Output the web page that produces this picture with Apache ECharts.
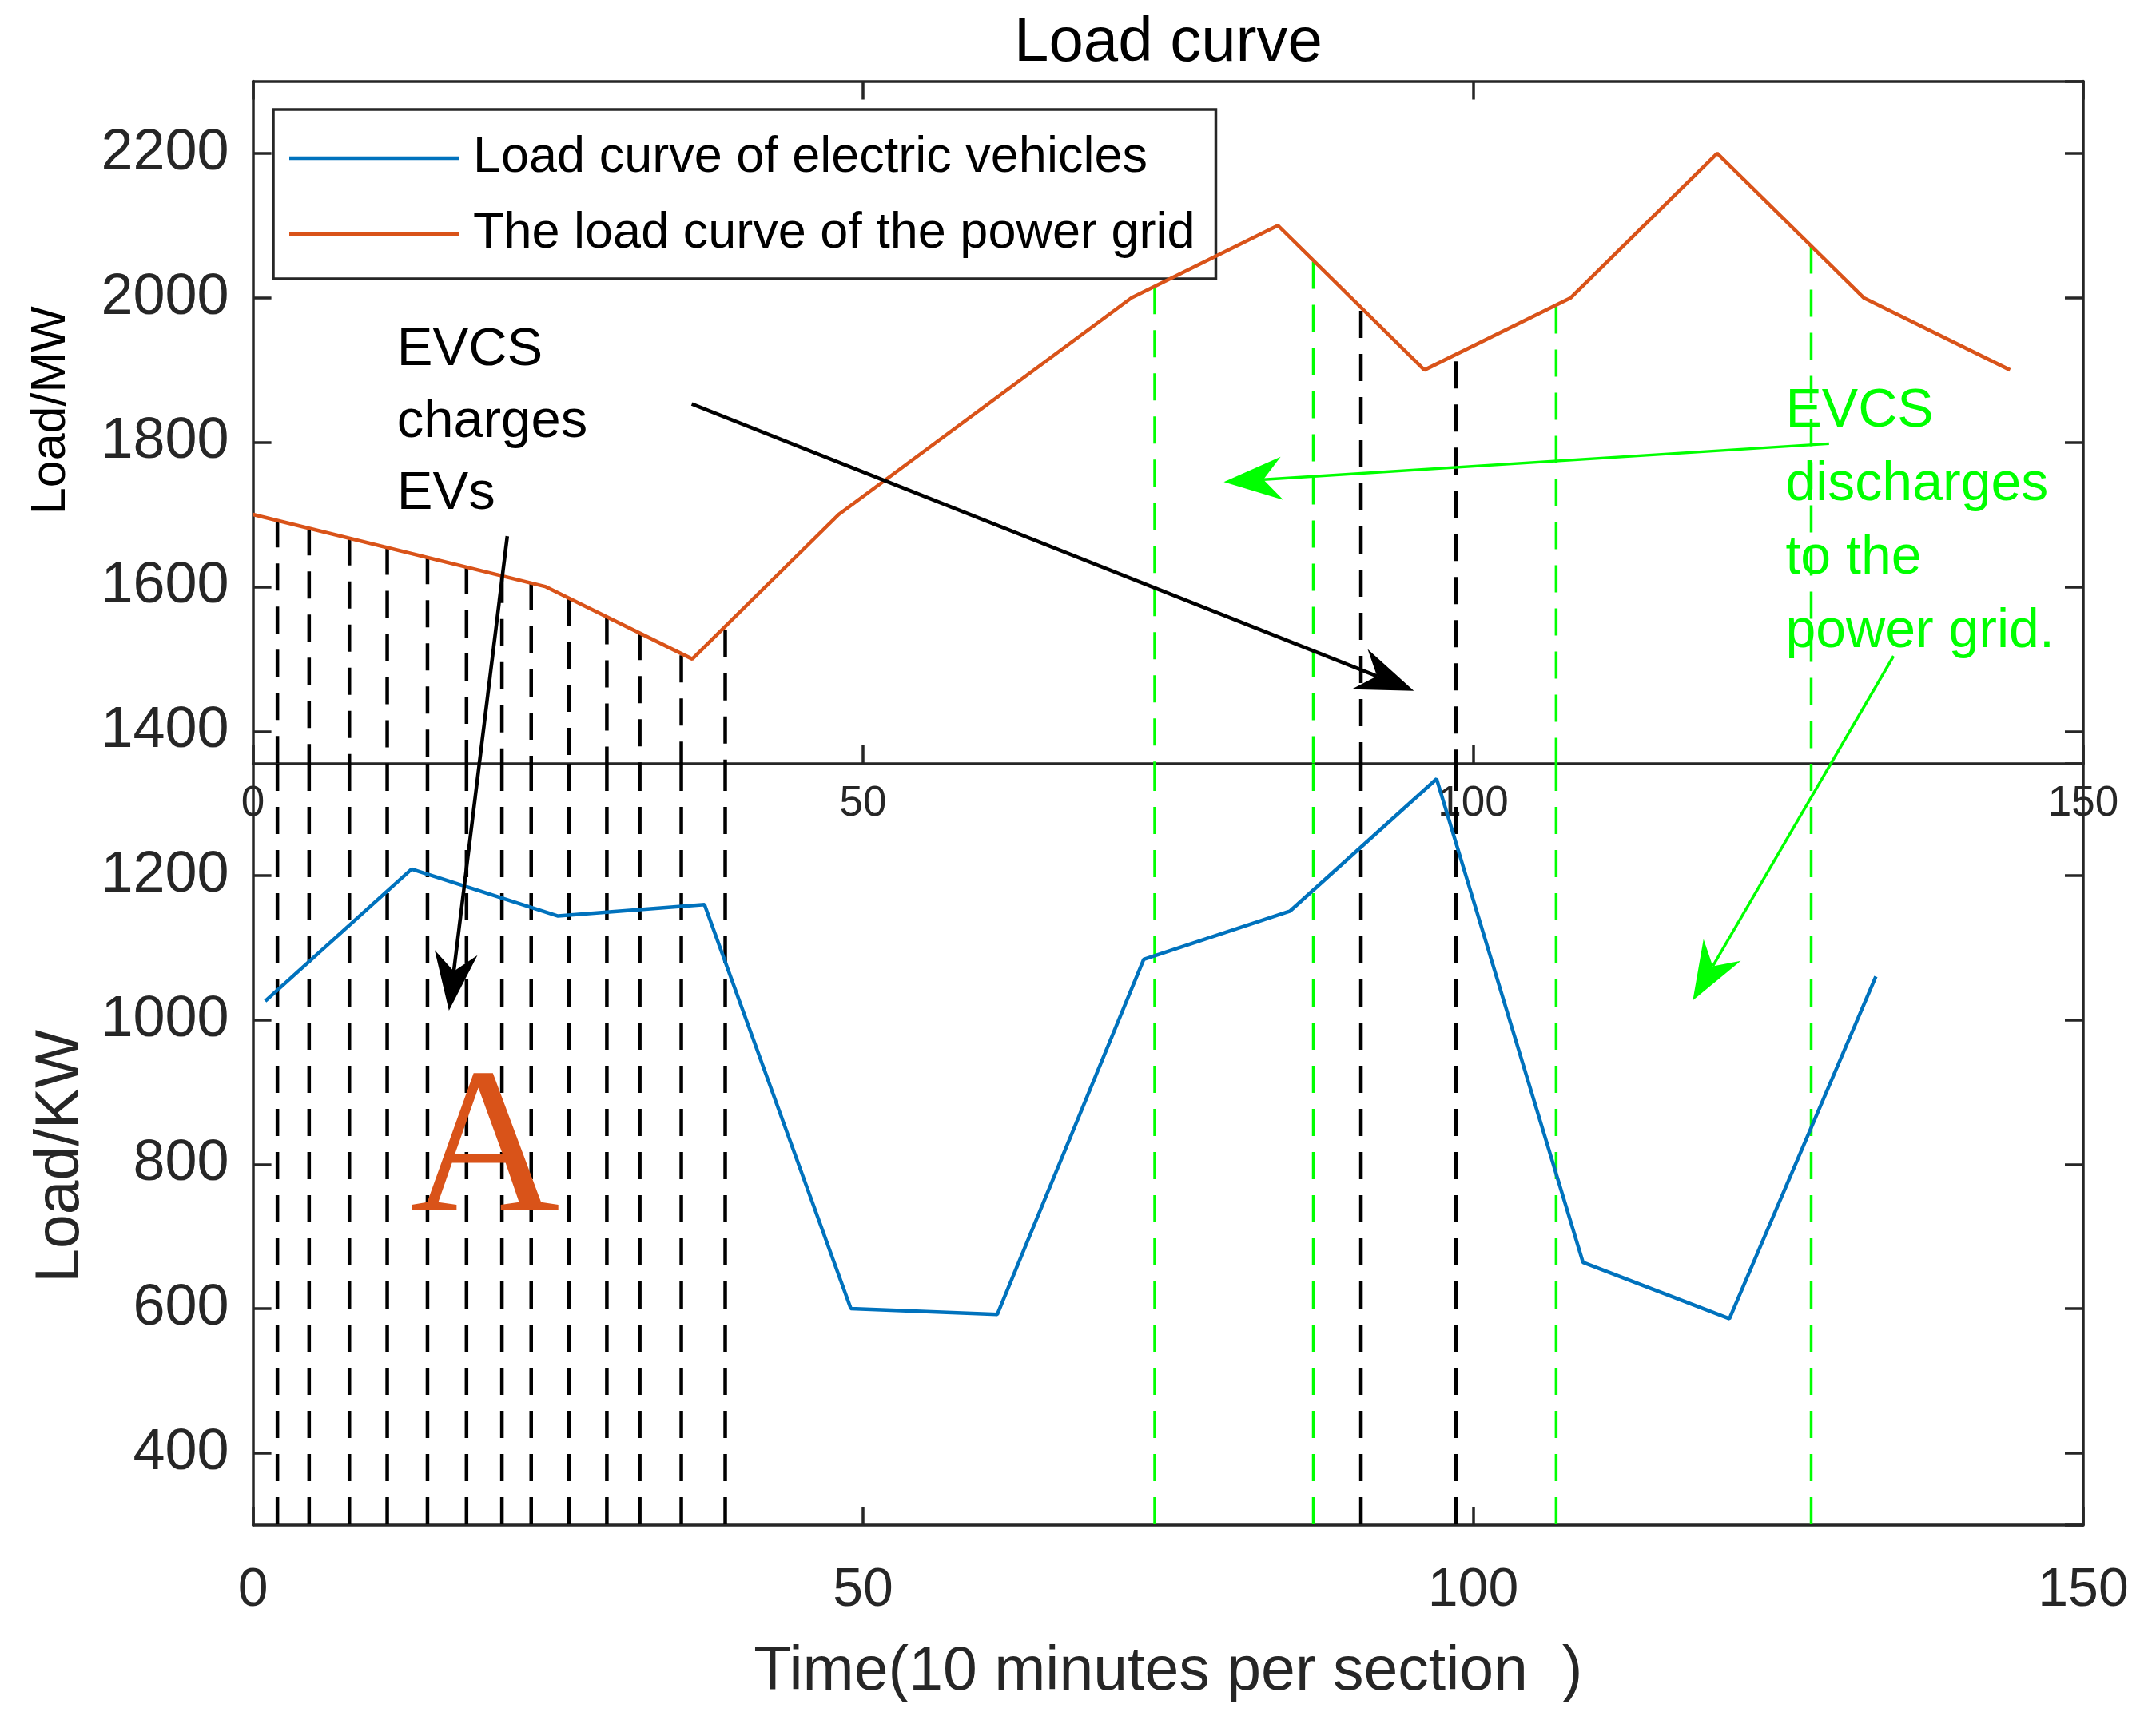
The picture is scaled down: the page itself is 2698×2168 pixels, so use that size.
<!DOCTYPE html>
<html>
<head>
<meta charset="utf-8">
<script src="https://cdn.jsdelivr.net/npm/echarts@6/dist/echarts.min.js"></script>
<style>
html,body{margin:0;padding:0;background:#fff;}
#c{width:2698px;height:2168px;}
</style>
</head>
<body>
<div id="c"></div>
<script>
// ---------------- data ----------------
const gridTimes   = [0, 24, 36, 48, 72, 84, 96, 108, 120, 132, 144];
const gridLoadMW  = [1700, 1600, 1500, 1700, 2000, 2100, 1900, 2000, 2200, 2000, 1900];

const evTimes     = [1, 13, 25, 37, 49, 61, 73, 85, 97, 109, 121, 133];
const evLoadKW    = [1026, 1209, 1144, 1160, 600, 592, 1084, 1151, 1334, 664, 586, 1060];

// black dashed drop lines (charging) : time and the top end on the grid curve
const blackDropTimes = [2.0, 4.6, 7.9, 11.0, 14.3, 17.5, 20.4, 22.8, 25.9, 29.0, 31.7, 35.1, 38.7, 90.8, 98.6];
const blackDropTopMW = [1692, 1681, 1667, 1654, 1641, 1627, 1615, 1605, 1584, 1558, 1536, 1505, 1540, 1982, 1912];
// green dashed drop lines (discharging)
const greenDropTimes = [73.9, 86.9, 106.8, 127.7];
const greenDropTopMW = [2015, 2050, 1988, 2071];

// axis ranges / tick step (ticks fall on 1400..2200 MW and 400..1200 KW)
const xRange  = [0, 150];
const xStep   = 50;
const MW_MIN = 1355, MW_MAX = 2300;
const KW_MIN = 300,  KW_MAX = 1355;
const yStepCount = 5;

// annotation anchors (grid index, x, y in that grid's data units)
const chargeText    = { grid: 0, at: [11.8, 1902], text: 'EVCS\ncharges\nEVs' };
const dischargeText = { grid: 0, at: [125.6, 1816], text: 'EVCS\ndischarges\nto the\npower grid.' };
const letterA       = { grid: 1, at: [19.0, 740], text: 'A' };
const blackArrows = [
  { from: [0, 35.96, 1853], to: [0, 95.14, 1456] },
  { from: [0, 20.84, 1670], to: [1, 16.06, 1013] }
];
const greenArrows = [
  { from: [0, 129.16, 1798], to: [0, 79.56, 1745] },
  { from: [0, 134.45, 1504], to: [1, 118.0, 1027] }
];

// ---------------- styles ----------------
const AX = '#262626';
const FONT = 'Liberation Sans, Arial, sans-serif';
const BLUE = '#0072BD', ORANGE = '#D95319', GREEN = '#00FF00';

const chart = echarts.init(document.getElementById('c'), null, { renderer: 'canvas' });

const gridTop = { left: 316.6, top: 101.4, width: 2290.4, height: 854.6 };
const gridBot = { left: 316.6, top: 956,   width: 2290.4, height: 953 };

function xAxisCfg(gi, pos, showLabel, fs, margin) {
  return {
    type: 'value', gridIndex: gi, position: pos, min: xRange[0], max: xRange[1], interval: xStep,
    axisLine: { show: true, onZero: false, lineStyle: { color: AX, width: 3.5 } },
    axisTick: { show: true, inside: true, length: 23, lineStyle: { color: AX, width: 3.5 } },
    axisLabel: { show: showLabel, fontSize: fs, color: AX, fontFamily: FONT, margin: margin,
                 showMinLabel: true, showMaxLabel: true },
    splitLine: { show: false }
  };
}
function yAxisCfg(gi, pos, min, max, showLabel) {
  return {
    type: 'value', gridIndex: gi, position: pos, min: min, max: max, splitNumber: yStepCount,
    axisLine: { show: true, onZero: false, lineStyle: { color: AX, width: 3.5 } },
    axisTick: { show: true, inside: true, length: 23, lineStyle: { color: AX, width: 3.5 } },
    axisLabel: { show: showLabel, fontSize: 72, color: AX, fontFamily: FONT, margin: 30,
                 showMinLabel: false, showMaxLabel: false,
                 formatter: function (v) { return String(v); } },
    splitLine: { show: false }
  };
}

const xA0 = xAxisCfg(0, 'bottom', true, 53, 24);
const xA1 = xAxisCfg(0, 'top', false, 53, 10);
const xA2 = xAxisCfg(1, 'bottom', true, 68, 48);
xA2.name = 'Time(10 minutes per section  )';
xA2.nameLocation = 'middle';
xA2.nameGap = 146;
xA2.nameTextStyle = { fontSize: 77, color: AX, fontFamily: FONT };

const yA0 = yAxisCfg(0, 'left', MW_MIN, MW_MAX, true);
yA0.name = 'Load/MW'; yA0.nameLocation = 'middle'; yA0.nameRotate = 90; yA0.nameGap = 222;
yA0.nameTextStyle = { fontSize: 61, color: '#000', fontFamily: FONT, padding: [0, 0, 0, 30] };
const yA1 = yAxisCfg(0, 'right', MW_MIN, MW_MAX, false);
const yA2 = yAxisCfg(1, 'left', KW_MIN, KW_MAX, true);
yA2.name = 'Load/KW'; yA2.nameLocation = 'middle'; yA2.nameRotate = 90; yA2.nameGap = 196;
yA2.nameTextStyle = { fontSize: 77, color: AX, fontFamily: FONT, padding: [0, 30, 0, 0] };
const yA3 = yAxisCfg(1, 'right', KW_MIN, KW_MAX, false);

function dropSeries(xi, yi, times, tops, color, width, lowVal, highFixed) {
  return {
    type: 'custom', xAxisIndex: xi, yAxisIndex: yi, silent: true, z: 3,
    data: times.map((t, i) => [t, highFixed === null ? tops[i] : highFixed]),
    renderItem: function (params, api) {
      const p0 = api.coord([api.value(0), api.value(1)]);
      const p1 = api.coord([api.value(0), lowVal]);
      return { type: 'line', shape: { x1: p0[0], y1: p0[1], x2: p1[0], y2: p1[1] },
               style: { stroke: color, lineWidth: width, lineDash: [34, 20] } };
    }
  };
}

const option = {
  animation: false,
  backgroundColor: '#fff',
  title: {
    text: 'Load curve', left: 1269, top: 15, padding: 0,
    textStyle: { fontSize: 78, fontWeight: 'normal', color: '#000', fontFamily: FONT }
  },
  legend: {
    data: ['Load curve of electric vehicles', 'The load curve of the power grid'],
    orient: 'vertical', left: 342, top: 137, padding: [26, 26, 21, 20],
    itemWidth: 212, itemHeight: 4.5, icon: 'rect', itemGap: 25, selectedMode: false,
    backgroundColor: '#fff', borderColor: AX, borderWidth: 3.5, borderRadius: 0,
    textStyle: { fontSize: 63, color: '#000', fontFamily: FONT, lineHeight: 58, padding: [12, 0, 0, 13] }
  },
  grid: [gridTop, gridBot],
  xAxis: [xA0, xA1, xA2],
  yAxis: [yA0, yA1, yA2, yA3],
  series: [
    {
      name: 'Load curve of electric vehicles', type: 'line', xAxisIndex: 2, yAxisIndex: 2,
      data: evTimes.map((t, i) => [t, evLoadKW[i]]),
      symbol: 'none', color: BLUE, lineStyle: { color: BLUE, width: 4.5 }, z: 4
    },
    {
      name: 'The load curve of the power grid', type: 'line', xAxisIndex: 0, yAxisIndex: 0,
      data: gridTimes.map((t, i) => [t, gridLoadMW[i]]),
      symbol: 'none', color: ORANGE, lineStyle: { color: ORANGE, width: 4.5 }, z: 4
    },
    dropSeries(0, 0, blackDropTimes, blackDropTopMW, '#000', 4.5, MW_MIN, null),
    dropSeries(2, 2, blackDropTimes, null, '#000', 4.5, KW_MIN, KW_MAX),
    dropSeries(0, 0, greenDropTimes, greenDropTopMW, GREEN, 3.5, MW_MIN, null),
    dropSeries(2, 2, greenDropTimes, null, GREEN, 3.5, KW_MIN, KW_MAX)
  ]
};
chart.setOption(option);

// ---------------- annotations (positioned via the chart's own scales) ----------------
function px(g, x, y) { return chart.convertToPixel({ gridIndex: g }, [x, y]); }

function arrow(p0, p1, color, width) {
  const dx = p1[0] - p0[0], dy = p1[1] - p0[1];
  const len = Math.hypot(dx, dy), ux = dx / len, uy = dy / len, nx = -uy, ny = ux;
  const L = 73, W = 27, N = 0.68 * L;
  const bx = p1[0] - ux * L, by = p1[1] - uy * L;
  const notch = [p1[0] - ux * N, p1[1] - uy * N];
  return [
    { type: 'line', z: 50, shape: { x1: p0[0], y1: p0[1], x2: notch[0], y2: notch[1] },
      style: { stroke: color, lineWidth: width } },
    { type: 'polygon', z: 50, shape: { points: [p1, [bx + nx * W, by + ny * W], notch, [bx - nx * W, by - ny * W]] },
      style: { fill: color } }
  ];
}

const graphics = [];
blackArrows.forEach(a => {
  graphics.push(...arrow(px(a.from[0], a.from[1], a.from[2]), px(a.to[0], a.to[1], a.to[2]), '#000', 4.5));
});
greenArrows.forEach(a => {
  graphics.push(...arrow(px(a.from[0], a.from[1], a.from[2]), px(a.to[0], a.to[1], a.to[2]), GREEN, 3.5));
});

function multiText(t, color, fs, lh) {
  const p = px(t.grid, t.at[0], t.at[1]); // p = left / first baseline
  return { type: 'text', z: 50, x: p[0], y: p[1] - lh / 2 - 0.3465 * fs,
           style: { text: t.text, fill: color, font: fs + 'px ' + FONT, lineHeight: lh, align: 'left', verticalAlign: 'top' } };
}
graphics.push(multiText(chargeText, '#000', 67, 90));
graphics.push(multiText(dischargeText, GREEN, 68, 92));
(function () {
  const p = px(letterA.grid, letterA.at[0], letterA.at[1]);
  const fs = 260;
  graphics.push({ type: 'text', z: 50, x: p[0], y: p[1] - 0.25 * fs,
    style: { text: letterA.text, fill: ORANGE, font: fs + 'px Liberation Serif, Times New Roman, serif',
             align: 'center', verticalAlign: 'middle' } });
})();

chart.setOption({ graphic: graphics });
</script>
</body>
</html>
